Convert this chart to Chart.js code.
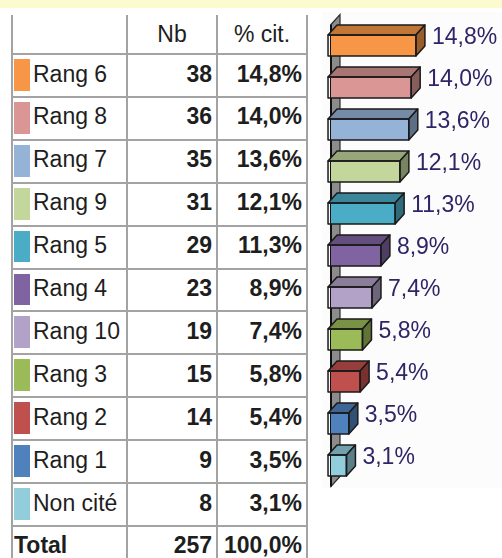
<!DOCTYPE html>
<html>
<head>
<meta charset="utf-8">
<script src="https://cdn.jsdelivr.net/npm/chart.js@4/dist/chart.umd.min.js"></script>
<style>
  html, body { margin: 0; padding: 0; background: #ffffff; width: 502px; height: 558px; overflow: hidden; }
  #band { position: absolute; left: 0; top: 0; width: 502px; height: 8px; background: #fcfbd0; }
  #tbl { position: absolute; left: 0; top: 0; width: 320px; height: 558px; font-family: "Liberation Sans", Arial, sans-serif; color: #1e1e1e; }
  #tbl div { position: absolute; white-space: nowrap; }
  .vl { background: #a3a3a3; width: 2px; }
  .hl { background: #a3a3a3; height: 2px; }
  #c { position: absolute; left: 0; top: 0; }
</style>
</head>
<body>
<div id="band"></div>
<div id="tbl"></div>
<canvas id="c" width="502" height="558"></canvas>
<script>
// Categories, counts and shares
const categories = ['Rang 6', 'Rang 8', 'Rang 7', 'Rang 9', 'Rang 5', 'Rang 4', 'Rang 10', 'Rang 3', 'Rang 2', 'Rang 1', 'Non cité'];
const counts = [38, 36, 35, 31, 29, 23, 19, 15, 14, 9, 8];
const percents = [14.8, 14.0, 13.6, 12.1, 11.3, 8.9, 7.4, 5.8, 5.4, 3.5, 3.1];
const colors = ['#f79646', '#d99694', '#95b3d7', '#c3d69b', '#4bacc6', '#8064a2', '#b3a2c7', '#9bbb59', '#c0504d', '#4f81bd', '#92cddc'];
const headers = ['Nb', '% cit.'];
const totalLabel = 'Total';
const totalCount = 257;
const totalPercent = 100.0;

const fmtPct = v => v.toFixed(1).replace('.', ',') + '%';

// ---- Summary table ----
const tbl = document.getElementById('tbl');
function add(css, text, cls) {
  const d = document.createElement('div');
  if (cls) d.className = cls;
  Object.assign(d.style, css);
  if (text !== undefined) d.textContent = text;
  tbl.appendChild(d);
  return d;
}
const ROW_H = 42.9;
const FIRST_LINE = 53;
const colLines = [11, 126, 216, 306];
colLines.forEach(x => add({ left: x + 'px', top: '15px', height: '543px' }, undefined, 'vl'));
for (let k = 0; k <= categories.length; k++) {
  add({ left: '11px', top: (FIRST_LINE + ROW_H * k) + 'px', width: '297px' }, undefined, 'hl');
}
const font = '23px';
// header
add({ left: '127px', width: '90px', top: '14px', height: '40px', lineHeight: '40px', textAlign: 'center', fontSize: font }, headers[0]);
add({ left: '217px', width: '90px', top: '14px', height: '40px', lineHeight: '40px', textAlign: 'center', fontSize: font }, headers[1]);
// rows
function row(i, label, count, pct, color, bold) {
  const top = FIRST_LINE + 1 + ROW_H * i;
  if (color) add({ left: '14px', top: (top + 5) + 'px', width: '16px', height: (ROW_H - 11) + 'px', background: color });
  const tt = (top - 1.5) + 'px', lh = ROW_H + 'px';
  add({ left: color ? '33px' : '14px', top: tt, height: lh, lineHeight: lh, fontSize: font, fontWeight: bold ? 'bold' : 'normal' }, label);
  add({ left: '127px', width: '85px', top: tt, height: lh, lineHeight: lh, fontSize: font, fontWeight: 'bold', textAlign: 'right' }, String(count));
  add({ left: '217px', width: '85px', top: tt, height: lh, lineHeight: lh, fontSize: font, fontWeight: 'bold', textAlign: 'right' }, fmtPct(pct));
}
categories.forEach((c, i) => row(i, c, counts[i], percents[i], colors[i], false));
row(categories.length, totalLabel, totalCount, totalPercent, null, true);

// ---- 3D bar chart ----
const DX = 9, DY = 10;
function shade(hex, f) {
  const n = parseInt(hex.slice(1), 16);
  const r = Math.round(((n >> 16) & 255) * f), g = Math.round(((n >> 8) & 255) * f), b = Math.round((n & 255) * f);
  return `rgb(${r},${g},${b})`;
}
const bar3d = {
  id: 'bar3d',
  beforeDraw(chart) {
    const ctx = chart.ctx;
    ctx.save();
    ctx.fillStyle = '#fcfcfc';
    ctx.fillRect(322, 12, 180, 476);
    ctx.restore();
  },
  beforeDatasetsDraw(chart) {
    // side wall of the 3D plot
    const { ctx, chartArea: a } = chart;
    ctx.save();
    ctx.beginPath();
    ctx.moveTo(a.left, a.top);
    ctx.lineTo(a.left + DX, a.top - DY);
    ctx.lineTo(a.left + DX, a.bottom - DY);
    ctx.lineTo(a.left, a.bottom);
    ctx.closePath();
    ctx.fillStyle = '#8c8c8c';
    ctx.fill();
    ctx.lineWidth = 1.2;
    ctx.strokeStyle = '#2a2a2a';
    ctx.stroke();
    ctx.beginPath();
    ctx.moveTo(a.left, a.top);
    ctx.lineTo(a.left, a.bottom);
    ctx.lineWidth = 2;
    ctx.strokeStyle = '#111';
    ctx.stroke();
    ctx.restore();
  },
  afterDatasetsDraw(chart) {
    const ctx = chart.ctx;
    const meta = chart.getDatasetMeta(0);
    ctx.save();
    ctx.lineJoin = 'round';
    meta.data.forEach((el, i) => {
      const p = el.getProps(['x', 'y', 'base', 'height'], true);
      const top = p.y - p.height / 2, bot = p.y + p.height / 2;
      const x0 = p.base, x1 = p.x;
      ctx.lineWidth = 1.5;
      ctx.strokeStyle = '#1a1a1a';
      // top face
      ctx.beginPath();
      ctx.moveTo(x0, top);
      ctx.lineTo(x0 + DX, top - DY);
      ctx.lineTo(x1 + DX, top - DY);
      ctx.lineTo(x1, top);
      ctx.closePath();
      ctx.fillStyle = shade(colors[i], 0.78);
      ctx.fill();
      ctx.stroke();
      // side face
      ctx.beginPath();
      ctx.moveTo(x1, top);
      ctx.lineTo(x1 + DX, top - DY);
      ctx.lineTo(x1 + DX, bot - DY);
      ctx.lineTo(x1, bot);
      ctx.closePath();
      ctx.fillStyle = shade(colors[i], 0.62);
      ctx.fill();
      ctx.stroke();
      // front outline
      ctx.strokeRect(x0, top, x1 - x0, bot - top);
      // value label
      ctx.font = '23px "Liberation Sans", Arial, sans-serif';
      ctx.fillStyle = '#2e2566';
      ctx.textBaseline = 'middle';
      ctx.textAlign = 'left';
      ctx.fillText(fmtPct(percents[i]), x1 + DX + 7, p.y - 8);
    });
    ctx.restore();
  }
};

new Chart(document.getElementById('c'), {
  type: 'bar',
  data: {
    labels: categories,
    datasets: [{
      data: percents,
      backgroundColor: colors,
      borderWidth: 0,
      barPercentage: 0.5,
      categoryPercentage: 1
    }]
  },
  options: {
    indexAxis: 'y',
    responsive: false,
    animation: false,
    devicePixelRatio: 1,
    layout: { padding: { left: 331, top: 24.5, right: 55.2, bottom: 71.5 } },
    scales: {
      x: { type: 'linear', min: 0.5, max: 20, display: false },
      y: { display: false }
    },
    plugins: { legend: { display: false }, tooltip: { enabled: false } }
  },
  plugins: [bar3d]
});
</script>
</body>
</html>
